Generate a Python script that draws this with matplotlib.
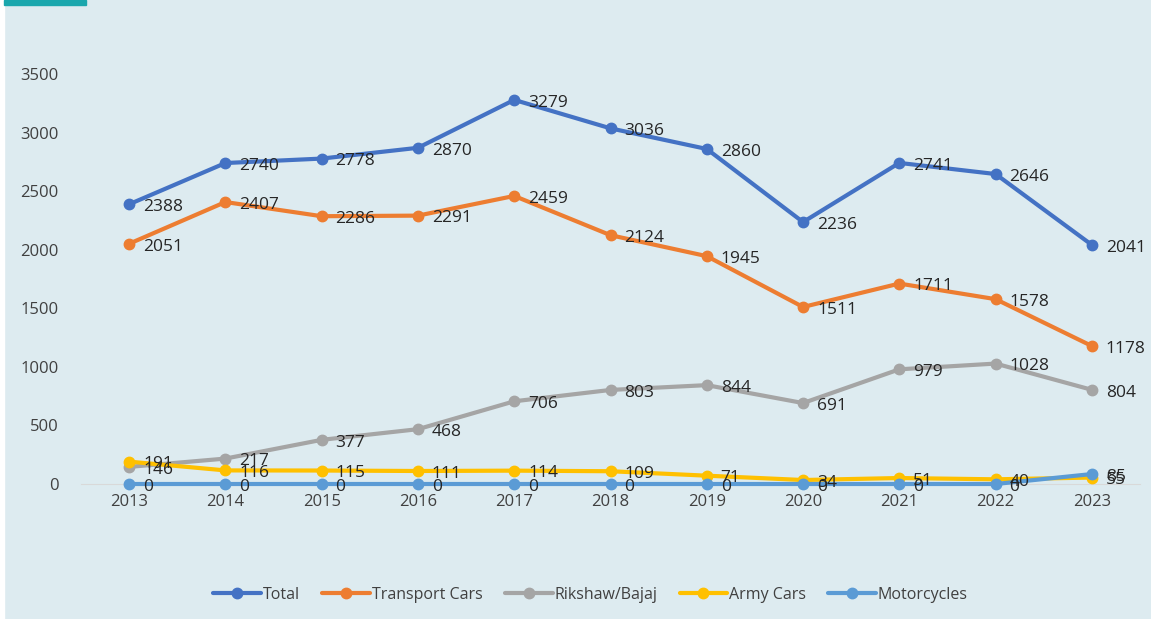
import matplotlib.pyplot as plt
import matplotlib.patches as mpatches

years = ['2013', '2014', '2015', '2016', '2017', '2018', '2019', '2020', '2021', '2022', '2023']
total = [2388, 2740, 2778, 2870, 3279, 3036, 2860, 2236, 2741, 2646, 2041]
transport = [2051, 2407, 2286, 2291, 2459, 2124, 1945, 1511, 1711, 1578, 1178]
rikshaw = [146, 217, 377, 468, 706, 803, 844, 691, 979, 1028, 804]
army = [191, 116, 115, 111, 114, 109, 71, 34, 51, 40, 55]
motorcycles = [0, 0, 0, 0, 0, 0, 0, 0, 0, 0, 85]

series = [
    ('Total', total, '#4472C4'),
    ('Transport Cars', transport, '#ED7D31'),
    ('Rikshaw/Bajaj', rikshaw, '#A5A5A5'),
    ('Army Cars', army, '#FFC000'),
    ('Motorcycles', motorcycles, '#5B9BD5'),
]

bg = '#DDEBF0'
txt = '#404040'
plt.rcParams['font.family'] = ['Open Sans', 'DejaVu Sans']

fig = plt.figure(figsize=(11.51, 6.19), dpi=100, facecolor=bg)
# white strip on the left edge and teal tab at top
fig.patches.append(mpatches.Rectangle((0, 0), 4 / 1151, 1, transform=fig.transFigure,
                                      color='white', zorder=0))
fig.patches.append(mpatches.Rectangle((4 / 1151, 1 - 5 / 619), 82 / 1151, 5 / 619,
                                      transform=fig.transFigure, color='#1AA7AD', zorder=1))

ax = fig.add_axes([81 / 1151, (619 - 484) / 619, (1140 - 81) / 1151, (484 - 74) / 619])
ax.set_facecolor(bg)
x = list(range(len(years)))

for name, vals, col in series:
    ax.plot(x, vals, color=col, lw=3, marker='o', ms=7.5, label=name,
            solid_capstyle='round', clip_on=False)

for name, vals, col in series:
    for xi, v in zip(x, vals):
        ax.annotate(str(v), (xi, v), xytext=(10, -2), textcoords='offset points',
                    ha='left', va='center', fontsize=12.5, color='#262626', zorder=10)

ax.set_xlim(-0.5, len(years) - 0.5)
ax.set_ylim(0, 3500)
ax.set_yticks(range(0, 3501, 500))
ax.set_xticks(x)
ax.set_xticklabels(years)
ax.tick_params(axis='both', length=0, labelsize=12, colors=txt)
ax.tick_params(axis='y', pad=16)
ax.tick_params(axis='x', pad=7)
for s in ['top', 'right', 'left']:
    ax.spines[s].set_visible(False)
ax.spines['bottom'].set_color('#D9D9D9')
ax.spines['bottom'].set_linewidth(0.8)
ax.spines['bottom'].set_zorder(0)

leg = fig.legend(loc='center', bbox_to_anchor=(0.513, 1 - 595 / 619), ncol=5, frameon=False,
                 fontsize=11.5, handlelength=3, columnspacing=1.4, handletextpad=0.1)
for t in leg.get_texts():
    t.set_color(txt)

fig.savefig('out.png', dpi=100, facecolor=bg)
